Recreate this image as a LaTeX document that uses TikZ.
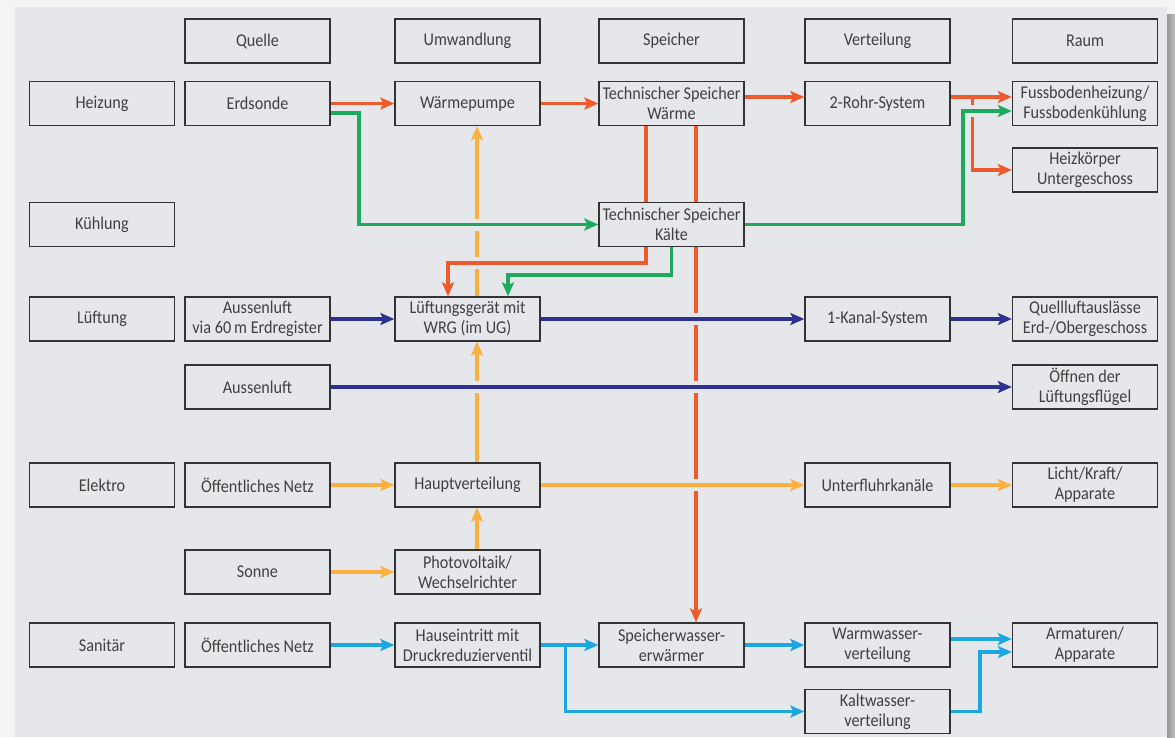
\documentclass[tikz,border=0pt]{standalone}
\usepackage{fontspec}
\setmainfont[FakeStretch=0.9]{Carlito}
\usetikzlibrary{arrows.meta,backgrounds,calc}
\definecolor{panel}{HTML}{E6E7EA}
\definecolor{outer}{HTML}{F4F4F4}
\definecolor{boxline}{HTML}{333333}
\definecolor{txt}{HTML}{404040}
\definecolor{cOr}{HTML}{EE5A2B}
\definecolor{cGr}{HTML}{1DAA5C}
\definecolor{cYe}{HTML}{FBB040}
\definecolor{cBl}{HTML}{2E3192}
\definecolor{cCy}{HTML}{1CA7E0}
\tikzset{
  box/.style={draw=boxline, line width=1.3pt, fill=panel, minimum width=145pt,
    minimum height=44pt, inner sep=0pt, align=center, text=txt,
    font=\fontsize{18}{20}\selectfont},
  flow/.style={line width=3.3pt, -{Stealth[length=14pt,width=12pt,inset=3pt]}},
  halo/.style={preaction={draw=panel, line width=12pt, arrows=-}},
}
\begin{document}
\begin{tikzpicture}[x=1pt,y=-1pt]
\useasboundingbox (0,0) rectangle (1175,737);
% header row
\node[box] (q) at (257.5,41) {Quelle};
\node[box] (u) at (467.5,41) {Umwandlung};
\node[box] (s) at (671.5,41) {Speicher};
\node[box] (v) at (877.5,41) {Verteilung};
\node[box] (r) at (1085,41) {Raum};
% Heizung
\node[box] (heiz) at (102,103.5) {Heizung};
\node[box] (erd) at (257.5,103.5) {Erdsonde};
\node[box] (wp) at (467.5,103.5) {Wärmepumpe};
\node[box] (tsw) at (671.5,103.5) {Technischer Speicher\\Wärme};
\node[box] (rohr) at (877.5,103.5) {2-Rohr-System};
\node[box] (fbh) at (1085,103.5) {Fussbodenheizung/\\Fussbodenkühlung};
\node[box] (hk) at (1085,170) {Heizkörper\\Untergeschoss};
% Kühlung
\node[box] (kuehl) at (102,224.5) {Kühlung};
\node[box] (tsk) at (671.5,224.5) {Technischer Speicher\\Kälte};
% Lüftung
\node[box] (lueft) at (102,319) {Lüftung};
\node[box] (al1) at (257.5,319) {Aussenluft\\via 60\,m Erdregister};
\node[box] (lg) at (467.5,319) {Lüftungsgerät mit\\WRG (im UG)};
\node[box] (kanal) at (877.5,319) {1-Kanal-System};
\node[box] (qla) at (1085,319) {Quellluftauslässe\\Erd-/Obergeschoss};
\node[box] (al2) at (257.5,387) {Aussenluft};
\node[box] (oef) at (1085,387) {Öffnen der\\Lüftungsflügel};
% Elektro
\node[box] (elek) at (102,485) {Elektro};
\node[box] (netz1) at (257.5,485) {Öffentliches Netz};
\node[box] (hv) at (467.5,485) {Hauptverteilung};
\node[box] (ufk) at (877.5,485) {Unterfluhrkanäle};
\node[box] (lka) at (1085,485) {Licht/Kraft/\\Apparate};
\node[box] (sonne) at (257.5,572) {Sonne};
\node[box] (pv) at (467.5,572) {Photovoltaik/\\Wechselrichter};
% Sanitär
\node[box] (sani) at (102,645) {Sanitär};
\node[box] (netz2) at (257.5,645) {Öffentliches Netz};
\node[box] (he) at (467.5,645) {Hauseintritt mit\\Druckreduzierventil};
\node[box] (swe) at (671.5,645) {Speicherwasser-\\erwärmer};
\node[box] (ww) at (877.5,645) {Warmwasser-\\verteilung};
\node[box] (arm) at (1085,645) {Armaturen/\\Apparate};
\node[box] (kw) at (877.5,711.5) {Kaltwasser-\\verteilung};
% helper coordinates
\coordinate (o2) at (448,263);
\coordinate (g2) at (508,275);
\coordinate (g3) at (359,113);
\coordinate (g4) at (963,111);
\coordinate (c2) at (980,652);
\begin{scope}[on background layer]
  \fill[outer] (0,0) rectangle (1175,737);
  \fill[panel] (15,7) rectangle (1167,737);
  \shade[left color=gray!80, right color=gray!50] (1167,14) rectangle (1175,737);
  % lines lying underneath
  \draw[flow,cOr] ([xshift=24.5pt]tsw.south) -- ([xshift=24.5pt]swe.north);
  \draw[flow,cOr] ($(rohr.east)+(22,-7)$) |- (hk.west);
  \draw[flow,cYe] ([xshift=9.5pt]pv.north) -- ([xshift=9.5pt]hv.south);
  \draw[flow,cYe] ([xshift=9.5pt]hv.north) -- ([xshift=9.5pt]lg.south);
  \draw[flow,cYe] ([xshift=9.5pt]lg.north) -- ([xshift=9.5pt]wp.south);
  % Heizung / Kühlung
  \draw[flow,cOr] (erd.east) -- (wp.west);
  \draw[flow,cOr] (wp.east) -- (tsw.west);
  \draw[flow,cOr] ([yshift=6.5pt]tsw.east) -- ([yshift=6.5pt]rohr.west);
  \draw[flow,cOr] ([yshift=6.5pt]rohr.east) -- ([yshift=6.5pt]fbh.west);
  \draw[flow,cOr,halo] ([xshift=-25.5pt]tsw.south) |- (o2) -- (o2 |- lg.north);
  \draw[flow,cGr,halo] (tsk.south) |- (g2) -- (g2 |- lg.north);
  \draw[flow,cGr,halo] ([yshift=-9.5pt]erd.east) -- (g3) |- (tsk.west);
  \draw[flow,cGr,halo] (tsk.east) -| (g4) -- ([yshift=-7.5pt]fbh.west);
  % Lüftung
  \draw[flow,cBl,halo] (al1.east) -- (lg.west);
  \draw[flow,cBl,halo] (lg.east) -- (kanal.west);
  \draw[flow,cBl] (kanal.east) -- (qla.west);
  \draw[flow,cBl,halo] (al2.east) -- (oef.west);
  % Elektro
  \draw[flow,cYe] (netz1.east) -- (hv.west);
  \draw[flow,cYe,halo] (hv.east) -- (ufk.west);
  \draw[flow,cYe] (ufk.east) -- (lka.west);
  \draw[flow,cYe] (sonne.east) -- (pv.west);
  % Sanitär
  \draw[flow,cCy] (netz2.east) -- (he.west);
  \draw[flow,cCy] (he.east) -- (swe.west);
  \draw[flow,cCy] ($(he.east)+(25,0)$) |- (kw.west);
  \draw[flow,cCy] (swe.east) -- (ww.west);
  \draw[flow,cCy] ([yshift=6pt]ww.east) -- ([yshift=6pt]arm.west);
  \draw[flow,cCy] (kw.east) -| (c2) -- ([yshift=-7pt]arm.west);
\end{scope}
\end{tikzpicture}
\end{document}
